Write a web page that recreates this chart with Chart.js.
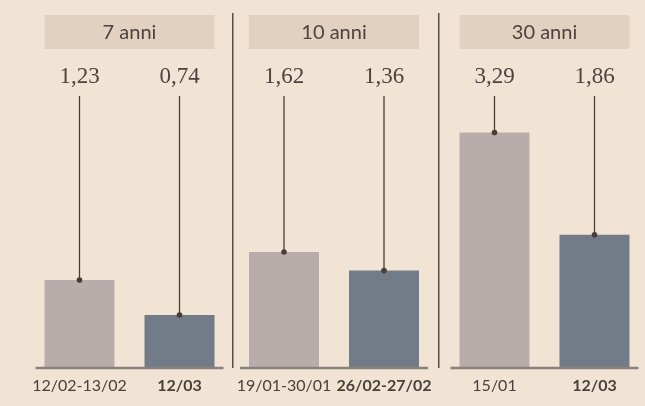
<!DOCTYPE html>
<html>
<head>
<meta charset="utf-8">
<script src="https://cdn.jsdelivr.net/npm/chart.js@4/dist/chart.umd.min.js"></script>
<style>
  html, body { margin: 0; padding: 0; background: #f2e4d5; }
  #wrap { position: relative; width: 645px; height: 406px; overflow: hidden; }
  #wrap canvas { position: absolute; top: 0; }
</style>
</head>
<body>
<div id="wrap">
  <canvas id="c0" width="232" height="406" style="left:0px"></canvas>
  <canvas id="c1" width="206" height="406" style="left:232px"></canvas>
  <canvas id="c2" width="207" height="406" style="left:438px"></canvas>
</div>
<script>
// maturities, one panel each
var panels = ['7 anni', '10 anni', '30 anni'];
// dates of the two bars in each panel
var prevPeriods = ['12/02-13/02', '19/01-30/01', '15/01'];
var lastPeriods = ['12/03', '26/02-27/02', '12/03'];
// values
var prevValues = [1.23, 1.62, 3.29];
var lastValues = [0.74, 1.36, 1.86];

var lightColor = '#b9adac';
var darkColor = '#727c89';
var inkColor = '#4a3d38';

// panel padding so the three plot areas line up with the picture
var padLeft = [29.5, 2, 6.5];
var padRight = [2.5, 4, 0.5];

function fmt(v) {
  return v.toFixed(2).replace('.', ',');
}

var panelDecor = {
  id: 'panelDecor',
  afterDatasetsDraw: function(chart) {
    var ctx = chart.ctx;
    var area = chart.chartArea;
    var idx = chart.options.plugins.panelDecor.index;
    var yScale = chart.scales.y;
    var base = yScale.getPixelForValue(0);
    var cx = (area.left + area.right) / 2;
    ctx.save();

    // header box
    ctx.fillStyle = '#e2d0c0';
    ctx.fillRect(cx - 85, 15, 170, 34);
    ctx.fillStyle = '#4d433e';
    ctx.font = '20px Lato';
    ctx.textAlign = 'center';
    ctx.textBaseline = 'middle';
    ctx.fillText(panels[idx], cx, 33);

    // separator on the left of panels 2 and 3
    if (idx > 0) {
      ctx.strokeStyle = '#5a4c45';
      ctx.lineWidth = 1.5;
      ctx.beginPath();
      ctx.moveTo(0.75, 13);
      ctx.lineTo(0.75, base);
      ctx.stroke();
    }

    // baseline
    ctx.strokeStyle = '#8b817b';
    ctx.lineWidth = 2.5;
    ctx.beginPath();
    ctx.moveTo(area.left + 6, base);
    ctx.lineTo(area.right - 6, base);
    ctx.stroke();

    // leaders and values
    var meta = chart.getDatasetMeta(0);
    var data = chart.data.datasets[0].data;
    meta.data.forEach(function(bar, i) {
      ctx.strokeStyle = inkColor;
      ctx.lineWidth = 1.3;
      ctx.beginPath();
      ctx.moveTo(bar.x, 96);
      ctx.lineTo(bar.x, bar.y);
      ctx.stroke();
      ctx.fillStyle = inkColor;
      ctx.beginPath();
      ctx.arc(bar.x, bar.y, 2.8, 0, Math.PI * 2);
      ctx.fill();

      ctx.fillStyle = '#4f433e';
      ctx.font = '23px "Liberation Serif"';
      ctx.textBaseline = 'alphabetic';
      ctx.fillText(fmt(data[i]), bar.x, 83);
    });
    ctx.restore();
  }
};

for (var i = 0; i < panels.length; i++) {
  new Chart(document.getElementById('c' + i), {
    type: 'bar',
    data: {
      labels: [prevPeriods[i], lastPeriods[i]],
      datasets: [{
        data: [prevValues[i], lastValues[i]],
        backgroundColor: [lightColor, darkColor],
        barPercentage: 0.7,
        categoryPercentage: 1
      }]
    },
    options: {
      responsive: false,
      animation: false,
      events: [],
      layout: { padding: { top: 10, bottom: 0, left: padLeft[i], right: padRight[i] } },
      plugins: {
        legend: { display: false },
        tooltip: { enabled: false },
        panelDecor: { index: i }
      },
      scales: {
        x: {
          grid: { display: false, drawTicks: false },
          border: { display: false },
          afterFit: function(axis) {
            axis.height = 38;
            // long date labels must not squeeze the plot area
            axis.paddingLeft = 0;
            axis.paddingRight = 0;
          },
          ticks: {
            padding: 8,
            color: '#4a403b',
            maxRotation: 0,
            autoSkip: false,
            font: function(c) {
              return { family: 'Lato', size: 16, weight: c.index === 1 ? 'bold' : 'normal' };
            }
          }
        },
        y: {
          display: false,
          min: 0,
          max: 5
        }
      }
    },
    plugins: [panelDecor]
  });
}
</script>
</body>
</html>
